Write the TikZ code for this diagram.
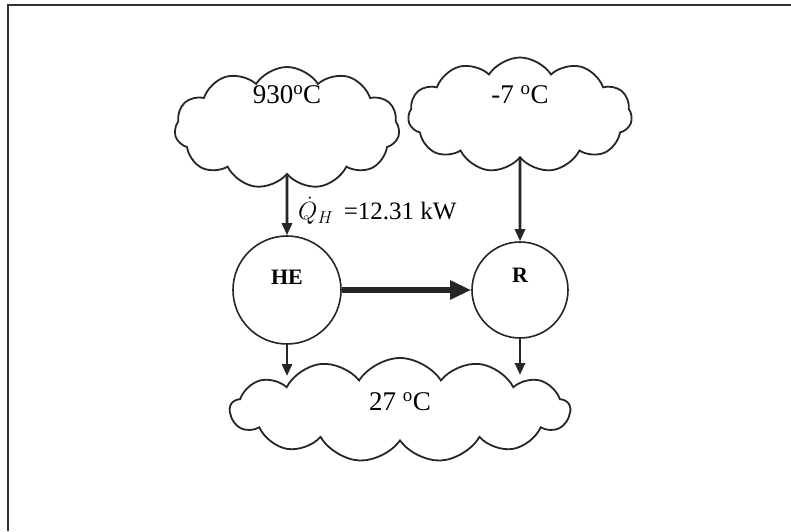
\documentclass[tikz,border=0pt]{standalone}
\usepackage{fontspec}
\setmainfont{Liberation Serif}
\usetikzlibrary{arrows.meta,shapes.symbols}
\definecolor{ink}{HTML}{262626}
\definecolor{frame}{HTML}{333333}
\newcommand{\temp}{\fontsize{27}{30}\selectfont}
\newcommand{\lab}{\fontsize{25}{28}\selectfont}
\newcommand{\eng}{\fontsize{22}{25}\selectfont\bfseries}

\begin{document}
\begin{tikzpicture}[x=1pt,y=1pt,
  puff/.style={cloud,draw=ink,line width=1.8pt,cloud puffs=11,cloud puff arc=115,inner sep=0},
  engine/.style={circle,draw=ink,line width=1.6pt,inner sep=0},
  flow/.style={ink,line width=2.8pt,-{Triangle[length=12pt,width=10pt]}},
  work/.style={ink,line width=6pt,-{Triangle[length=21pt,width=18pt]}}]
\useasboundingbox (0,0) rectangle (791,531);
\draw[frame,line width=2pt] (8,0) -- (8,526) -- (791,526);
% reservoirs
\node[puff,minimum width=225,minimum height=122,
  label={[font=\temp,yshift=33pt]center:930\textsuperscript{o}C}] (hot) at (287,403) {};
\node[puff,minimum width=224,minimum height=115,
  label={[font=\temp,yshift=20pt]center:-7 \textsuperscript{o}C}] (cold) at (520,416) {};
\node[puff,cloud puffs=13,minimum width=340,minimum height=104,
  label={[font=\temp,yshift=8pt]center:27 \textsuperscript{o}C}] (sink) at (400,121) {};
% engine and refrigerator
\node[engine,minimum size=108,label={[font=\eng,yshift=13pt]center:HE}] (HE) at (287,241) {};
\node[engine,minimum size=96,label={[font=\eng,yshift=15pt]center:R}] (R) at (520,241) {};
\coordinate (inHE) at (287,155);
\coordinate (inR) at (520,156);
% flows
\draw[flow] (hot.south) -- (HE.north);
\node[anchor=west,inner sep=0,font=\lab] (qh) at (298,320) {$\dot{Q}_H$\ \,=12.31 kW};
\draw[flow] (cold.south) -- (R.north);
\draw[work] (HE.east) -- (R.west);
\draw[flow] (HE.south) -- (inHE);
\draw[flow] (R.south) -- (inR);
\end{tikzpicture}
\end{document}
